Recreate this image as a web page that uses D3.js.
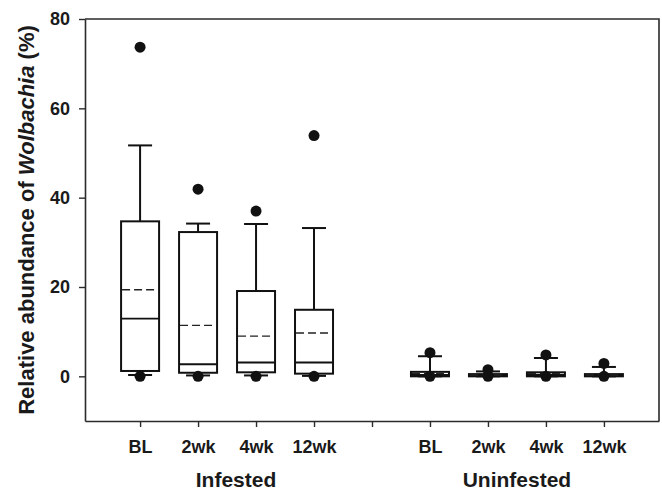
<!DOCTYPE html>
<html>
<head>
<meta charset="utf-8">
<script src="https://cdn.jsdelivr.net/npm/d3@7"></script>
<style>
  html, body { margin: 0; padding: 0; background: #fff; }
  svg { display: block; font-family: "Liberation Sans", Arial, sans-serif; }
</style>
</head>
<body>
<svg id="chart" width="662" height="492"></svg>
<script>
// Sample labels and grouping
const categories = ["BL", "2wk", "4wk", "12wk", "BL", "2wk", "4wk", "12wk"];
const groups = ["Infested", "Uninfested"];
const groupIndex = [0, 0, 0, 0, 1, 1, 1, 1];

// Box-plot summaries (relative abundance, %)
const whiskerLow  = [0.3, 0.2, 0.2, 0.1, 0.0, 0.0, 0.0, 0.0];
const q1          = [1.2, 0.8, 0.9, 0.6, 0.0, 0.0, 0.0, 0.0];
const median      = [12.9, 2.7, 3.1, 3.1, 0.3, 0.2, 0.3, 0.2];
const q3          = [34.7, 32.3, 19.1, 14.9, 1.0, 0.5, 0.9, 0.5];
const whiskerHigh = [51.7, 34.2, 34.1, 33.2, 4.5, 1.1, 4.1, 2.1];
const mean        = [19.4, 11.4, 9.0, 9.7, 0.6, 0.3, 0.6, 0.3];
const outliers    = [[73.7, 0], [41.9, 0], [37.0, 0], [53.9, 0],
                     [5.3, 0], [1.5, 0], [4.8, 0], [2.9, 0]];

// Y axis ticks
const yTicks = [0, 20, 40, 60, 80];

(function draw() {
  const svg = d3.select("#chart");
  const mLeft = 85, mRight = 659, mTop = 19, mBottom = 421;

  // Each group gets four slots with an empty slot between the two groups
  const slot = categories.map((c, i) => i + 1 + groupIndex[i]);
  const slotLabel = {};
  slot.forEach((s, i) => { slotLabel[s] = categories[i]; });

  const x = d3.scaleLinear().domain([0.05, 9.95]).range([mLeft, mRight]);
  const y = d3.scaleLinear().domain([-10, 80]).range([mBottom, mTop]);

  const ink = "#111";
  const axisColor = "#2b2b2b";

  // Frame on the top and right
  svg.append("path")
    .attr("d", `M${mLeft},${mTop}H${mRight}V${mBottom}`)
    .attr("fill", "none").attr("stroke", axisColor).attr("stroke-width", 1.6);

  // X axis
  const xAxis = d3.axisBottom(x)
    .tickValues(d3.range(1, 10))
    .tickFormat(d => slotLabel[d] || "")
    .tickSize(6).tickSizeOuter(0).tickPadding(13.5);
  const gx = svg.append("g").attr("transform", `translate(0,${mBottom})`).call(xAxis);

  // Y axis
  const yAxis = d3.axisLeft(y)
    .tickValues(yTicks)
    .tickSize(6).tickSizeOuter(0).tickPadding(9);
  const gy = svg.append("g").attr("transform", `translate(${mLeft},0)`).call(yAxis);

  [gx, gy].forEach(g => {
    g.select(".domain").attr("stroke", axisColor).attr("stroke-width", 1.6);
    g.selectAll(".tick line").attr("stroke", axisColor).attr("stroke-width", 1.4);
    g.selectAll(".tick text")
      .attr("fill", "#1a1a1a")
      .attr("font-family", "Liberation Sans, Arial, sans-serif")
      .attr("font-size", 18).attr("font-weight", "bold");
  });

  // Group labels under the tick labels
  groups.forEach((g, gi) => {
    const members = slot.filter((s, i) => groupIndex[i] === gi);
    const cx = (x(d3.min(members)) + x(d3.max(members))) / 2 + (gi === 0 ? 9 : 0);
    svg.append("text")
      .attr("x", cx).attr("y", 487)
      .attr("text-anchor", "middle")
      .attr("font-size", 21).attr("font-weight", "bold").attr("fill", "#1a1a1a")
      .text(g);
  });

  // Y axis title with italic genus name
  const yTitle = svg.append("text")
    .attr("transform", `translate(34,${(mTop + mBottom) / 2}) rotate(-90)`)
    .attr("text-anchor", "middle")
    .attr("font-size", 22).attr("font-weight", "bold").attr("fill", "#1a1a1a");
  yTitle.append("tspan").text("Relative abundance of ");
  yTitle.append("tspan").attr("font-style", "italic").text("Wolbachia");
  yTitle.append("tspan").text(" (%)");

  // Boxes
  const boxW = 38, capW = 24, r = 5.5;
  const boxes = svg.append("g");
  categories.forEach((c, i) => {
    const cx = x(slot[i]);
    const g = boxes.append("g");
    // whiskers
    g.append("line").attr("x1", cx).attr("x2", cx)
      .attr("y1", y(q3[i])).attr("y2", y(whiskerHigh[i]))
      .attr("stroke", ink).attr("stroke-width", 2);
    g.append("line").attr("x1", cx).attr("x2", cx)
      .attr("y1", y(q1[i])).attr("y2", y(whiskerLow[i]))
      .attr("stroke", ink).attr("stroke-width", 2);
    [whiskerHigh[i], whiskerLow[i]].forEach(v => {
      g.append("line").attr("x1", cx - capW / 2).attr("x2", cx + capW / 2)
        .attr("y1", y(v)).attr("y2", y(v))
        .attr("stroke", ink).attr("stroke-width", 2);
    });
    // box
    g.append("rect")
      .attr("x", cx - boxW / 2).attr("width", boxW)
      .attr("y", y(q3[i])).attr("height", Math.max(0, y(q1[i]) - y(q3[i])))
      .attr("fill", "#fff").attr("stroke", ink).attr("stroke-width", 2);
    // median (solid) and mean (dashed)
    g.append("line").attr("x1", cx - boxW / 2).attr("x2", cx + boxW / 2)
      .attr("y1", y(median[i])).attr("y2", y(median[i]))
      .attr("stroke", ink).attr("stroke-width", 1.8);
    g.append("line").attr("x1", cx - boxW / 2 + 1).attr("x2", cx + boxW / 2 - 1)
      .attr("y1", y(mean[i])).attr("y2", y(mean[i]))
      .attr("stroke", "#222").attr("stroke-width", 1.4)
      .attr("stroke-dasharray", "8,4");
    // outlying points
    outliers[i].forEach(v => {
      g.append("circle").attr("cx", cx).attr("cy", y(v)).attr("r", r).attr("fill", ink);
    });
  });
})();
</script>
</body>
</html>
